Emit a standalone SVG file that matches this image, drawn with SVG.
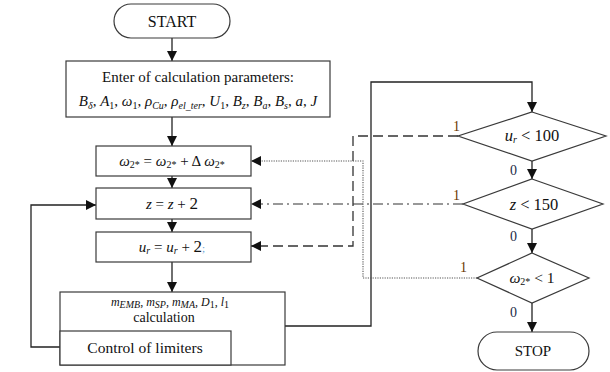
<svg xmlns="http://www.w3.org/2000/svg" width="610" height="372" viewBox="0 0 610 372">
  <style>
    .box { fill: #ffffff; stroke: #3a3a3a; stroke-width: 1.2; }
    .t { font-family: "Liberation Serif", "Times New Roman", serif; fill: #111111; }
    .c { text-anchor: middle; }
    .i { font-style: italic; }
    .sub { font-size: 10px; font-style: normal; }
    .subi { font-size: 10px; font-style: italic; }
    .line { fill: none; stroke: #222222; stroke-width: 1.3; }
    .dash { fill: none; stroke: #333333; stroke-width: 1.3; stroke-dasharray: 10 5; }
    .dashdot { fill: none; stroke: #333333; stroke-width: 1.2; stroke-dasharray: 10 4 2 4; }
    .dot { fill: none; stroke: #555555; stroke-width: 1.1; stroke-dasharray: 1.2 1.2; }
    .one { font-family: "Liberation Serif", serif; font-size: 14px; fill: #6a3800; }
    .zero { font-family: "Liberation Serif", serif; font-size: 14px; fill: #1c2a48; }
  </style>
  <defs>
    <marker id="arr" viewBox="0 0 10 10" refX="10" refY="5" markerWidth="11" markerHeight="10" markerUnits="userSpaceOnUse" orient="auto">
      <path d="M0,0 L10,5 L0,10 z" fill="#111111"/>
    </marker>
  </defs>

  <!-- connectors -->
  <g id="connectors">
    <line class="line" x1="172" y1="38" x2="172" y2="61" marker-end="url(#arr)"/>
    <line class="line" x1="172" y1="117" x2="172" y2="146" marker-end="url(#arr)"/>
    <line class="line" x1="172" y1="176" x2="172" y2="188" marker-end="url(#arr)"/>
    <line class="line" x1="172" y1="219" x2="172" y2="232" marker-end="url(#arr)"/>
    <line class="line" x1="172" y1="262" x2="172" y2="292" marker-end="url(#arr)"/>
    <!-- feedback from limiter control back to z update -->
    <polyline class="line" points="60,347 31,347 31,205 96,205" marker-end="url(#arr)"/>
    <!-- calculation result to first check -->
    <polyline class="line" points="285,326 371,326 371,82 532,82 532,112" marker-end="url(#arr)"/>
    <line class="line" x1="532" y1="161" x2="532" y2="179" marker-end="url(#arr)"/>
    <line class="line" x1="532" y1="229" x2="532" y2="253" marker-end="url(#arr)"/>
    <line class="line" x1="532" y1="303" x2="532" y2="332" marker-end="url(#arr)"/>
    <!-- branch returns -->
    <polyline class="dash" points="458,136 353,136 353,246 251,246" marker-end="url(#arr)"/>
    <polyline class="dashdot" points="463,204 251,204" marker-end="url(#arr)"/>
    <polyline class="dot" points="477,278 363,278 363,161 251,161" marker-end="url(#arr)"/>
  </g>

  <g id="start">
    <rect class="box" x="114" y="4" width="116" height="34" rx="17"/>
    <text class="t c" x="172" y="27" font-size="16">START</text>
  </g>

  <g id="input">
    <rect class="box" x="66" y="61" width="264" height="56"/>
    <text class="t c" x="198" y="82" font-size="15">Enter of calculation parameters:</text>
    <text class="t c" x="198" y="106" font-size="15"><tspan class="i">B</tspan><tspan class="subi" dy="3">δ</tspan><tspan dy="-3">, </tspan><tspan class="i">A</tspan><tspan class="sub" dy="3">1</tspan><tspan dy="-3">, </tspan><tspan class="i">ω</tspan><tspan class="sub" dy="3">1</tspan><tspan dy="-3">, </tspan><tspan class="i">ρ</tspan><tspan class="subi" dy="3">Cu</tspan><tspan dy="-3">, </tspan><tspan class="i">ρ</tspan><tspan class="subi" dy="3">el_ter</tspan><tspan dy="-3">, </tspan><tspan class="i">U</tspan><tspan class="sub" dy="3">1</tspan><tspan dy="-3">, </tspan><tspan class="i">B</tspan><tspan class="subi" dy="3">z</tspan><tspan dy="-3">, </tspan><tspan class="i">B</tspan><tspan class="subi" dy="3">a</tspan><tspan dy="-3">, </tspan><tspan class="i">B</tspan><tspan class="subi" dy="3">s</tspan><tspan dy="-3">, </tspan><tspan class="i">a</tspan><tspan>, </tspan><tspan class="i">J</tspan></text>
  </g>

  <g id="omega-step">
    <rect class="box" x="96" y="146" width="155" height="30"/>
    <text class="t c" x="172" y="166" font-size="15"><tspan class="i">ω</tspan><tspan class="sub" dy="2">2*</tspan><tspan dy="-2"> = </tspan><tspan class="i">ω</tspan><tspan class="sub" dy="2">2*</tspan><tspan dy="-2"> + Δ </tspan><tspan class="i">ω</tspan><tspan class="sub" dy="2">2*</tspan></text>
  </g>

  <g id="z-step">
    <rect class="box" x="96" y="188" width="155" height="31"/>
    <text class="t c" x="172" y="209" font-size="15"><tspan class="i">z</tspan> = <tspan class="i">z</tspan> + <tspan font-size="17">2</tspan></text>
  </g>

  <g id="ur-step">
    <rect class="box" x="96" y="232" width="155" height="30"/>
    <text class="t c" x="172" y="252" font-size="15"><tspan class="i">u</tspan><tspan class="subi" dy="2">r</tspan><tspan dy="-2"> = </tspan><tspan class="i">u</tspan><tspan class="subi" dy="2">r</tspan><tspan dy="-2"> + </tspan><tspan font-size="17">2</tspan><tspan fill="#5b9bd5" font-size="11">;</tspan></text>
  </g>

  <g id="calculation">
    <rect class="box" x="60" y="292" width="225" height="73"/>
    <text class="t c" x="170" y="306" font-size="12"><tspan class="i">m</tspan><tspan class="subi" font-size="7.5" dy="2">EMB</tspan><tspan dy="-2">, </tspan><tspan class="i">m</tspan><tspan class="subi" font-size="7.5" dy="2">SP</tspan><tspan dy="-2">, </tspan><tspan class="i">m</tspan><tspan class="subi" font-size="7.5" dy="2">MA</tspan><tspan dy="-2">, </tspan><tspan class="i">D</tspan><tspan class="sub" font-size="8" dy="2">1</tspan><tspan dy="-2">, </tspan><tspan class="i">l</tspan><tspan class="sub" font-size="8" dy="2">1</tspan></text>
    <text class="t c" x="164" y="322" font-size="14">calculation</text>
  </g>

  <g id="limiters">
    <rect class="box" x="60" y="331" width="171" height="34"/>
    <text class="t c" x="145" y="353" font-size="15.5">Control of limiters</text>
  </g>

  <g id="check-ur">
    <polygon class="box" points="532,112 606,136 532,161 458,136"/>
    <text class="t c" x="532" y="141" font-size="16.5"><tspan class="i">u</tspan><tspan class="subi" dy="2">r</tspan><tspan dy="-2"> &lt; 100</tspan></text>
    <text class="one" x="453" y="131">1</text>
    <text class="zero" x="510" y="175">0</text>
  </g>

  <g id="check-z">
    <polygon class="box" points="532,179 603,204 532,229 463,204"/>
    <text class="t c" x="534" y="210" font-size="16.5"><tspan class="i">z</tspan> &lt; 150</text>
    <text class="one" x="453" y="200">1</text>
    <text class="zero" x="510" y="241">0</text>
  </g>

  <g id="check-omega">
    <polygon class="box" points="532,253 589,278 532,303 477,278"/>
    <text class="t c" x="532" y="283" font-size="15.5"><tspan class="i">ω</tspan><tspan class="sub" dy="2">2*</tspan><tspan dy="-2"> &lt; 1</tspan></text>
    <text class="one" x="460" y="272">1</text>
    <text class="zero" x="510" y="317">0</text>
  </g>

  <g id="stop">
    <rect class="box" x="478" y="332" width="111" height="38" rx="19"/>
    <text class="t c" x="533" y="356" font-size="15">STOP</text>
  </g>
</svg>
